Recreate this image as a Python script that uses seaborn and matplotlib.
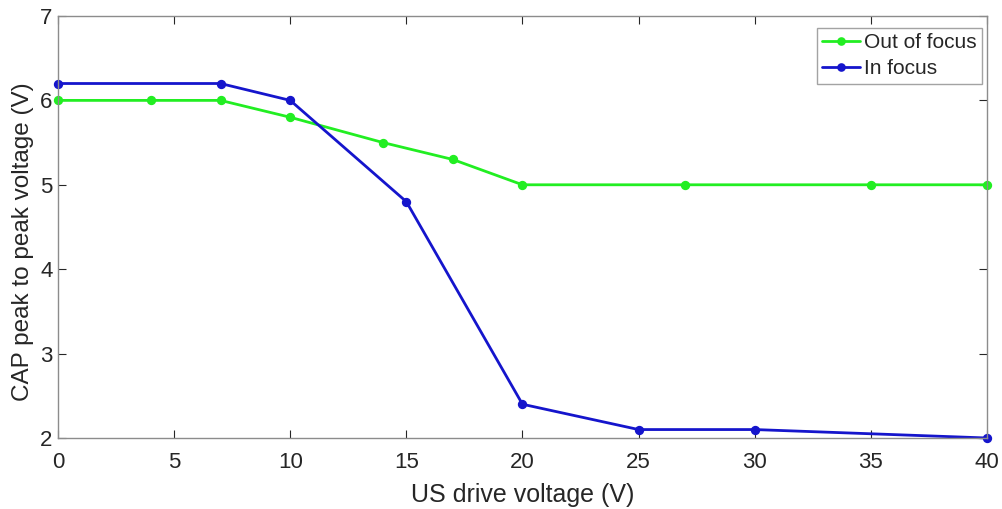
import matplotlib
matplotlib.use("Agg")
import matplotlib.pyplot as plt
import seaborn as sns
import pandas as pd

out_x = [0, 4, 7, 10, 14, 17, 20, 27, 35, 40]
out_y = [6.0, 6.0, 6.0, 5.8, 5.5, 5.3, 5.0, 5.0, 5.0, 5.0]
in_x = [0, 7, 10, 15, 20, 25, 30, 40]
in_y = [6.2, 6.2, 6.0, 4.8, 2.4, 2.1, 2.1, 2.0]
series_names = ["Out of focus", "In focus"]
x_ticks = [0, 5, 10, 15, 20, 25, 30, 35, 40]
y_ticks = [2, 3, 4, 5, 6, 7]

sns.set_theme(style="white")
plt.rcParams['font.family'] = ['Liberation Sans', 'DejaVu Sans']

df = pd.concat([
    pd.DataFrame({"x": out_x, "y": out_y, "s": series_names[0]}),
    pd.DataFrame({"x": in_x, "y": in_y, "s": series_names[1]}),
])

GREEN = "#22ee22"
BLUE = "#1515cc"

fig = plt.figure(figsize=(10.03, 5.09), dpi=100)
ax = fig.add_axes([0.0578, 0.1395, 0.9262, 0.8291])
palette = {series_names[0]: GREEN, series_names[1]: BLUE}
sns.lineplot(data=df, x="x", y="y", hue="s", palette=palette, marker="o",
             markersize=5.5, linewidth=2, markeredgewidth=1.2, sort=False,
             estimator=None, ax=ax)
for line in ax.lines:
    line.set_markeredgecolor(line.get_color())
    line.set_clip_on(False)

ax.set_xlim(0, 40)
ax.set_ylim(2, 7)
ax.set_xticks(x_ticks)
ax.set_yticks(y_ticks)
ax.tick_params(direction="in", length=6, width=0.8, colors="#262626",
               labelsize=16, top=True, right=True, bottom=True, left=True,
               labeltop=False, labelright=False)
ax.tick_params(axis="x", pad=10)
ax.tick_params(axis="y", pad=4)
for sp in ax.spines.values():
    sp.set_color("#8c8c8c")
    sp.set_linewidth(1.0)
ax.set_xlabel("US drive voltage (V)", fontsize=18, color="#262626", labelpad=7)
ax.set_ylabel("CAP peak to peak voltage (V)", fontsize=17.5, color="#262626", labelpad=4)
ax.yaxis.label.set_y(0.465)

leg = ax.legend(loc="upper right", bbox_to_anchor=(982 / 1003, 1 - 28 / 509),
                bbox_transform=fig.transFigure, borderaxespad=0,
                fontsize=15, frameon=True, fancybox=False,
                edgecolor="#8c8c8c", handlelength=1.8, handletextpad=0.2,
                labelspacing=0.35, borderpad=0.25)
leg.get_frame().set_linewidth(1.0)
for h in leg.legend_handles:
    h.set_markersize(5)
    h.set_markeredgecolor(h.get_color())

fig.savefig("out.png", dpi=100)
